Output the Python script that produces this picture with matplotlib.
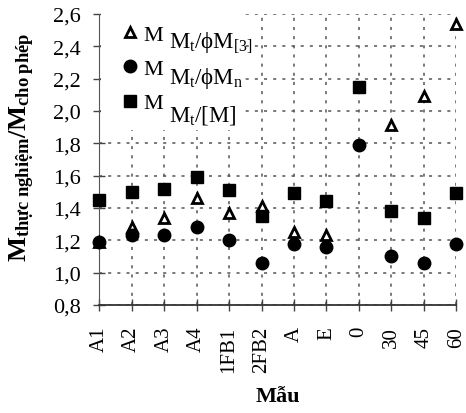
import matplotlib
matplotlib.use("Agg")
import matplotlib.pyplot as plt
import numpy as np
from matplotlib.patches import Rectangle

plt.rcParams['font.family'] = ['Liberation Serif', 'DejaVu Serif']
plt.rcParams['mathtext.fontset'] = 'custom'
plt.rcParams['mathtext.rm'] = 'Liberation Serif'
plt.rcParams['mathtext.it'] = 'Liberation Serif:italic'
plt.rcParams['mathtext.bf'] = 'Liberation Serif:bold'

categories = ["A1", "A2", "A3", "A4", "1FB1", "2FB2", "A", "E", "0", "30", "45", "60"]
tri_vals = [1.19, 1.28, 1.34, 1.46, 1.37, 1.41, 1.25, 1.23, np.nan, 1.91, 2.09, 2.54]
circ_vals = [1.19, 1.23, 1.23, 1.28, 1.20, 1.06, 1.18, 1.16, 1.79, 1.10, 1.06, 1.18]
sq_vals = [1.45, 1.50, 1.52, 1.59, 1.51, 1.35, 1.49, 1.44, 2.15, 1.38, 1.34, 1.49]
yticks = [0.8, 1.0, 1.2, 1.4, 1.6, 1.8, 2.0, 2.2, 2.4, 2.6]
ytick_labels = ["0,8", "1,0", "1,2", "1,4", "1,6", "1,8", "2,0", "2,2", "2,4", "2,6"]
legend_main = ["M", "M", "M"]
legend_sub = [r"$\mathrm{M_t/\phi M_{[3]}}$", r"$\mathrm{M_t/\phi M_n}$", r"$\mathrm{M_t/[M]}$"]

fig = plt.figure(figsize=(4.66, 4.14), dpi=100)
ax = fig.add_axes([0.213, 0.261, 0.766, 0.703])

x = np.arange(len(categories))
h_tri, = ax.plot(x, tri_vals, linestyle='none', marker='^', markersize=7,
                 markerfacecolor='white', markeredgecolor='black', markeredgewidth=2,
                 clip_on=False, zorder=3)
h_circ, = ax.plot(x, circ_vals, linestyle='none', marker='o', markersize=9,
                  color='black', clip_on=False, zorder=4)
h_sq, = ax.plot(x, sq_vals, linestyle='none', marker='s', markersize=8.5,
                color='black', clip_on=False, zorder=4)

ax.set_xlim(0, len(categories) - 1)
ax.set_ylim(0.8, 2.6)
ax.set_xticks(x)
ax.set_xticklabels(categories, rotation=90, fontsize=15)
ax.set_yticks(yticks)
ax.set_yticklabels(ytick_labels, fontsize=16)
ax.tick_params(axis='both', direction='inout', length=8, width=1, color='#444444')
ax.tick_params(axis='x', pad=11)
ax.tick_params(axis='y', pad=9)
ax.grid(True, linestyle=(0, (2, 4)), color='#555555', linewidth=1.1)
ax.set_axisbelow(True)
for s in ['top', 'right']:
    ax.spines[s].set_visible(False)
ax.spines['left'].set_color('#555555')
ax.spines['bottom'].set_color('#333333')
ax.spines['bottom'].set_linewidth(1.3)

# white area behind legend
ax.add_patch(Rectangle((0.006, 0.60), 0.39, 0.42, transform=ax.transAxes,
                       facecolor='white', edgecolor='none', zorder=2, clip_on=False))

leg = ax.legend([h_tri, h_circ, h_sq], legend_main, loc='upper left',
                bbox_to_anchor=(0.025, 0.995), frameon=False, fontsize=16,
                handletextpad=0.0, labelspacing=0.62, handlelength=1.2,
                borderaxespad=0.0)
leg.set_zorder(5)

sub_y = [0.905, 0.78, 0.655]
for t, yy in zip(legend_sub, sub_y):
    ax.text(0.195, yy, t, transform=ax.transAxes, fontsize=16.5, ha='left', va='center', zorder=6)

ax.set_ylabel(r"$\mathbf{M_{thực\ nghiệm}/M_{cho\ phép}}$", fontsize=19)
ax.yaxis.set_label_coords(-0.175, 0.545)
ax.set_xlabel("Mẫu", fontsize=16, fontweight='bold', labelpad=10)

fig.savefig("out.png", dpi=100)
